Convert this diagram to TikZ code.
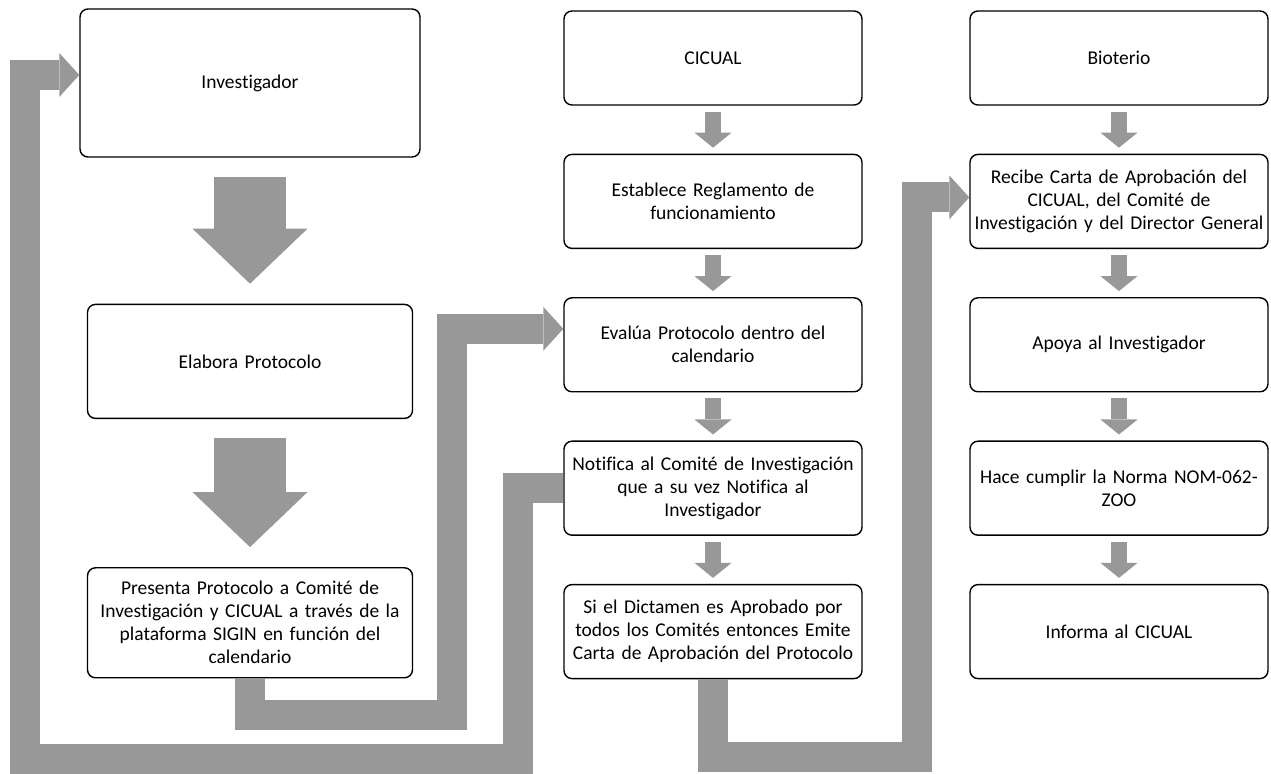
\documentclass[tikz,border=0pt]{standalone}
\usepackage{fontspec}
\setmainfont{Carlito}[Ligatures=CommonOff]
\usetikzlibrary{arrows.meta,positioning}
\definecolor{flowgray}{RGB}{152,152,152}

\begin{document}
\begin{tikzpicture}[x=0.5pt,y=-0.5pt,node distance=24pt,
                    main node/.style={draw,fill=white,rounded corners=4pt,line width=0.7pt,align=center,
                                      inner xsep=2pt,inner ysep=2pt,font=\fontsize{9.75}{11.5}\selectfont},
                    left node/.style={main node,text width=158.5pt},
                    col node/.style={main node,text width=145pt,minimum height=47pt},
                    big arrow/.style={draw,flowgray,line width=36pt,shorten <=9.5pt,shorten >=10pt,
                                      -{Triangle[width=57.5pt,length=27.5pt,line width=0pt]}},
                    small arrow/.style={draw,flowgray,line width=8pt,shorten <=3pt,shorten >=3pt,
                                        -{Triangle[width=18.5pt,length=7.5pt,line width=0pt]}},
                    link/.style={draw,flowgray,line width=15pt,
                                 -{Triangle[width=22pt,length=10pt,line width=0pt]}}]
  \useasboundingbox (0,0) rectangle (1271,774);

  % left column
  \node[left node,text width=166pt,minimum height=74pt] (inv) at (250,83) {Investigador};
  \node[left node,minimum height=57pt] (elab) [below=73pt of inv] {Elabora Protocolo};
  \node[left node,minimum height=55pt] (pres) [below=74pt of elab]
    {Presenta Protocolo a Comité de\\ Investigación y CICUAL a través de la\\ plataforma SIGIN en función del\\ calendario};

  % middle column
  \node[col node] (cic) at (713,58) {CICUAL};
  \node[col node] (est) [below=of cic] {Establece Reglamento de\\ funcionamiento};
  \node[col node] (eval) [below=of est] {Evalúa Protocolo dentro del\\ calendario};
  \node[col node] (notif) [below=of eval] {Notifica al Comité de Investigación\\ que a su vez Notifica al\\ Investigador};
  \node[col node] (dict) [below=of notif] {Si el Dictamen es Aprobado por\\ todos los Comités entonces Emite\\ Carta de Aprobación del Protocolo};

  % right column
  \node[col node] (bio) at (1119,58) {Bioterio};
  \node[col node] (rec) [below=of bio] {Recibe Carta de Aprobación del\\ CICUAL, del Comité de\\ Investigación y del Director General};
  \node[col node] (apoya) [below=of rec] {Apoya al Investigador};
  \node[col node] (norma) [below=of apoya] {Hace cumplir la Norma NOM-062-\\ ZOO};
  \node[col node] (inf) [below=of norma] {Informa al CICUAL};

  \path[big arrow]
    (inv) edge (elab)
    (elab) edge (pres);
  \path[small arrow]
    (cic) edge (est)
    (est) edge (eval)
    (eval) edge (notif)
    (notif) edge (dict)
    (bio) edge (rec)
    (rec) edge (apoya)
    (apoya) edge (norma)
    (norma) edge (inf);

  % links between the columns
  \draw[link] (pres.south) |- (452,715) |- ([yshift=8pt]eval.west);
  \draw[link] (notif.west) -| (518,759) -| (25,75) -- ([yshift=4pt]inv.west);
  \draw[link] (dict.south) |- (917,757) |- ([yshift=2pt]rec.west);
\end{tikzpicture}
\end{document}
